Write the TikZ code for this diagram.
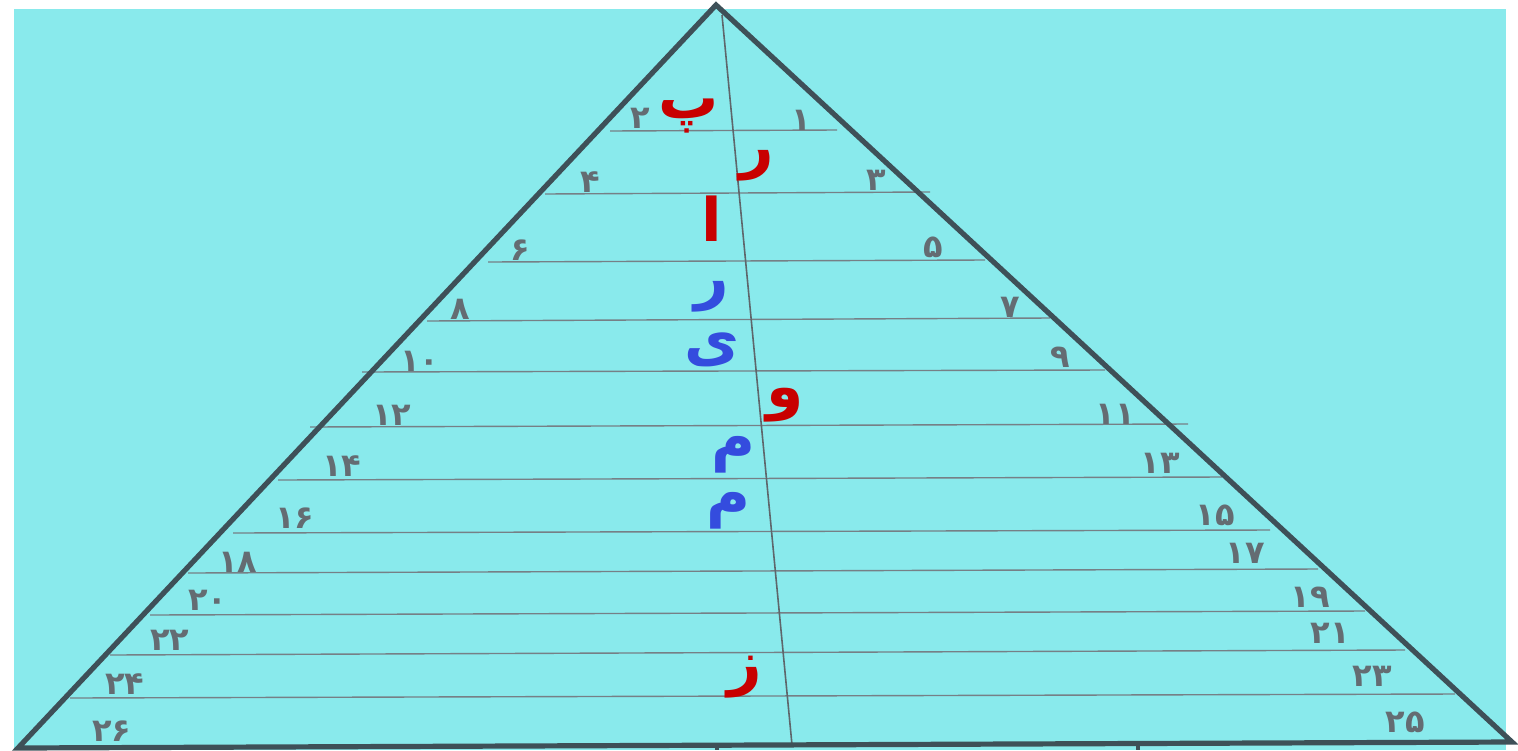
\documentclass[tikz,border=0pt]{standalone}
\usepackage{fontspec}
\TeXXeTstate=1
\newfontfamily\arfont[Script=Arabic]{DejaVu Sans}
\definecolor{bgcyan}{RGB}{137,234,236}
\definecolor{edgecol}{RGB}{62,80,88}
\definecolor{rulecol}{RGB}{118,128,134}
\definecolor{numcol}{RGB}{100,108,114}
\definecolor{redcol}{RGB}{200,0,0}
\definecolor{bluecol}{RGB}{52,76,222}
\tikzset{
  edgeline/.style={draw=edgecol, line width=2.6pt, line join=miter},
  ruleline/.style={draw=rulecol, line width=0.7pt},
  midline/.style={draw=rulecol!80!black, line width=0.8pt},
  numlbl/.style={text=numcol, inner sep=0pt, font=\arfont\bfseries\fontsize{16}{16}\selectfont},
  redlbl/.style={text=redcol, inner sep=0pt, font=\arfont\bfseries\fontsize{30}{30}\selectfont},
  bluelbl/.style={text=bluecol, inner sep=0pt, font=\arfont\bfseries\fontsize{30}{30}\selectfont}
}
\begin{document}
\begin{tikzpicture}[x=0.5pt,y=-0.5pt]
\useasboundingbox (0,0) rectangle (1518,750);
\fill[bgcyan] (14,9) rectangle (1506,750);
% horizontal rules
\foreach \xl/\yl/\xr/\yr in {610/131/837/130, 545/194/930/192, 488/262/985/260, 427/321/1050/318,
  362/372/1105/370, 310/427/1188/424, 278/480/1222/477, 233/533/1270/530, 188/573/1318/569,
  150/615/1365/611, 110/655/1405/650, 70/698/1455/694}
  \draw[ruleline] (\xl,\yl) -- (\xr,\yr);
% central line
\coordinate (ctop) at (722,15);
\coordinate (cbot) at (792,745);
\draw[midline] (ctop) -- (cbot);
% triangle
\coordinate (apex) at (716,5);
\coordinate (bl) at (18,748);
\coordinate (br) at (1512,742);
\draw[edgeline] (bl) -- (apex) -- (br) -- cycle;
\coordinate (t1a) at (717,744); \coordinate (t1b) at (717,750);
\coordinate (t2a) at (1138,743); \coordinate (t2b) at (1138,750);
\draw[edgeline, line width=2pt] (t1a) -- (t1b);
\draw[edgeline, line width=2pt] (t2a) -- (t2b);
% left numbers
\node[numlbl] (n2) at (640,118) {۲};
\node[numlbl] (n4) at (590,182) {۴};
\node[numlbl] (n6) at (520,250) {۶};
\node[numlbl] (n8) at (460,309) {۸};
\node[numlbl] (n10) at (420,361) {۱۰};
\node[numlbl] (n12) at (392,415) {۱۲};
\node[numlbl] (n14) at (342,466) {۱۴};
\node[numlbl] (n16) at (295,518) {۱۶};
\node[numlbl] (n18) at (238,562) {۱۸};
\node[numlbl] (n20) at (208,600) {۲۰};
\node[numlbl] (n22) at (170,640) {۲۲};
\node[numlbl] (n24) at (125,684) {۲۴};
\node[numlbl] (n26) at (112,731) {۲۶};
% right numbers
\node[numlbl] (n1) at (801,120) {۱};
\node[numlbl] (n3) at (876,180) {۳};
\node[numlbl] (n5) at (933,247) {۵};
\node[numlbl] (n7) at (1010,307) {۷};
\node[numlbl] (n9) at (1060,357) {۹};
\node[numlbl] (n11) at (1115,414) {۱۱};
\node[numlbl] (n13) at (1160,463) {۱۳};
\node[numlbl] (n15) at (1215,515) {۱۵};
\node[numlbl] (n17) at (1245,553) {۱۷};
\node[numlbl] (n19) at (1310,597) {۱۹};
\node[numlbl] (n21) at (1330,633) {۲۱};
\node[numlbl] (n23) at (1372,676) {۲۳};
\node[numlbl] (n25) at (1405,722) {۲۵};
% letters
\node[redlbl] (lp) at (689,116) {\beginR پ\endR};
\node[redlbl] (lr1) at (757,166) {\beginR ر\endR};
\node[redlbl] (la) at (712,219) {\beginR ا\endR};
\node[bluelbl] (lr2) at (712,297) {\beginR ر\endR};
\node[bluelbl] (ly) at (712,350) {\beginR ى\endR};
\node[redlbl] (lv) at (785,405) {\beginR و\endR};
\node[bluelbl] (lm1) at (733,455) {\beginR م\endR};
\node[bluelbl] (lm2) at (728,511) {\beginR م\endR};
\node[redlbl] (lz) at (745,677) {\beginR ز\endR};
\end{tikzpicture}
\end{document}
